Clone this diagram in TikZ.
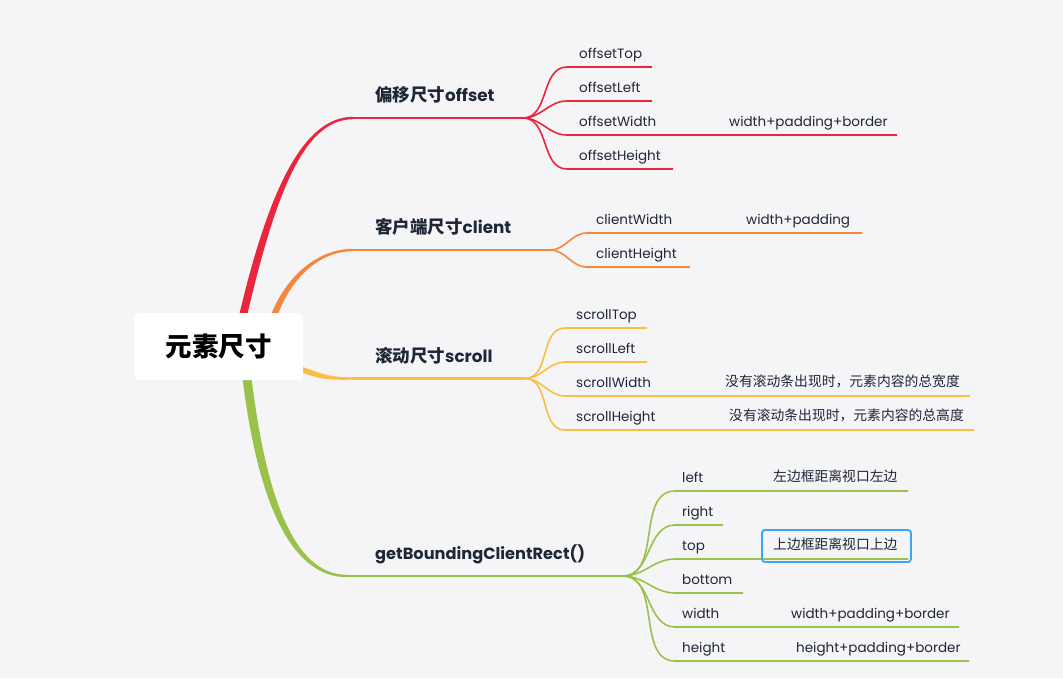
\documentclass[tikz,border=0pt]{standalone}
\usepackage{fontspec}
\setmainfont{Poppins}
\newfontfamily\zhf{Noto Sans CJK SC}
\definecolor{bg}{HTML}{F5F5F7}
\definecolor{ink}{HTML}{1E2637}
\definecolor{cred}{HTML}{EA263C}
\definecolor{corange}{HTML}{F5873C}
\definecolor{cyellow}{HTML}{FBBE45}
\definecolor{cgreen}{HTML}{9AC24B}
\definecolor{cblue}{HTML}{3AA8F0}
\begin{document}
\begin{tikzpicture}[x=1pt,y=-1pt,
  leaf/.style={anchor=base west, inner sep=0pt, text=ink, font=\fontsize{13.5}{16}\selectfont},
  note/.style={anchor=base west, inner sep=0pt, text=ink, font=\zhf\fontsize{13.8}{16}\selectfont},
  mainlbl/.style={anchor=base west, inner sep=0pt, text=ink, font=\fontsize{16.8}{20}\selectfont\bfseries},
  twig/.style={line width=1.6pt},
  limb/.style={line width=2.4pt},
  rootbox/.style={fill=white, rounded corners=5pt, inner sep=0pt, minimum width=169pt, minimum height=67pt, text=black, font=\zhf\fontsize{26.5}{30}\selectfont\bfseries},
  hilite/.style={draw=cblue, line width=1.8pt, rounded corners=3pt}
]
\fill[bg] (0,0) rectangle (1063,678);
\path[use as bounding box] (0,0) rectangle (1063,678);

% ---- tapered main branches ----
\fill[cred] (238,320) .. controls (266,200) and (300,116.8) .. (353,116.8) -- (353,119.2) .. controls (302,119.2) and (274,200) .. (246,320) -- cycle;
\fill[corange] (269,320) .. controls (283,280) and (315,248.8) .. (353,248.8) -- (353,251.2) .. controls (318,251.2) and (289,280) .. (276,320) -- cycle;
\fill[cyellow] (298,365) .. controls (325,376) and (335,377.3) .. (353,377.3) -- (353,379.7) .. controls (335,379.7) and (322,381) .. (298,371) -- cycle;
\fill[cgreen] (242,374) .. controls (257,500) and (290,577.2) .. (347,577.2) -- (347,574.8) .. controls (295,574.8) and (266,500) .. (251,374) -- cycle;

% root
\node[rootbox] (root) at (218.5,346.5) {元素尺寸};

% ---- main coordinates ----
\coordinate (r0) at (352,118);   \coordinate (rj) at (523,118);
\coordinate (o0) at (352,250);   \coordinate (oj) at (550,250);
\coordinate (y0) at (352,378.5); \coordinate (yj) at (525,378.5);
\coordinate (g0) at (346,576);   \coordinate (gj) at (623,576);

\draw[limb,cred] (r0) -- (rj);
\draw[limb,corange] (o0) -- (oj);
\draw[limb,cyellow] (y0) -- (yj);
\draw[limb,cgreen] (g0) -- (gj);

\node[mainlbl] (lr) at (375,101.5) {{\zhf\fontsize{17.5}{20}\selectfont 偏移尺寸}offset};
\node[mainlbl] (lo) at (375,233.5) {{\zhf\fontsize{17.5}{20}\selectfont 客户端尺寸}client};
\node[mainlbl] (ly) at (375,362) {{\zhf\fontsize{17.5}{20}\selectfont 滚动尺寸}scroll};
\node[mainlbl, font=\fontsize{16.2}{20}\selectfont\bfseries] (lg) at (375,559) {getBoundingClientRect()};

% ---- red children ----
\coordinate (r1s) at (567,67);  \coordinate (r1e) at (652,67);
\coordinate (r2s) at (567,101); \coordinate (r2e) at (652,101);
\coordinate (r3s) at (567,135); \coordinate (r3e) at (897,135);
\coordinate (r4s) at (567,169); \coordinate (r4e) at (673,169);
\foreach \i in {1,...,4} {\draw[twig,cred] (rj) to[out=0,in=180] (r\i s) -- (r\i e);}
\node[leaf] (t11) at (579,58) {offsetTop};
\node[leaf] (t12) at (579,92) {offsetLeft};
\node[leaf] (t13) at (579,126) {offsetWidth};
\node[leaf] (t13n) at (729,126) {width+padding+border};
\node[leaf] (t14) at (579,160) {offsetHeight};

% ---- orange children ----
\coordinate (o1s) at (587,233); \coordinate (o1e) at (862,233);
\coordinate (o2s) at (587,267); \coordinate (o2e) at (690,267);
\foreach \i in {1,2} {\draw[twig,corange] (oj) to[out=0,in=180] (o\i s) -- (o\i e);}
\node[leaf] (t21) at (596,224) {clientWidth};
\node[leaf] (t21n) at (746,224) {width+padding};
\node[leaf] (t22) at (596,258) {clientHeight};

% ---- yellow children ----
\coordinate (y1s) at (565,328); \coordinate (y1e) at (647,328);
\coordinate (y2s) at (565,362); \coordinate (y2e) at (647,362);
\coordinate (y3s) at (565,396); \coordinate (y3e) at (970,396);
\coordinate (y4s) at (565,430); \coordinate (y4e) at (974,430);
\foreach \i in {1,...,4} {\draw[twig,cyellow] (yj) to[out=0,in=180] (y\i s) -- (y\i e);}
\node[leaf] (t31) at (576,319) {scrollTop};
\node[leaf] (t32) at (576,353) {scrollLeft};
\node[leaf] (t33) at (576,387) {scrollWidth};
\node[note] (t33n) at (725,386.5) {没有滚动条出现时，元素内容的总宽度};
\node[leaf] (t34) at (576,421) {scrollHeight};
\node[note] (t34n) at (729,420.5) {没有滚动条出现时，元素内容的总高度};

% ---- green children ----
\coordinate (g1s) at (675,491); \coordinate (g1e) at (908,491);
\coordinate (g2s) at (675,525); \coordinate (g2e) at (723,525);
\coordinate (g3s) at (675,559); \coordinate (g3e) at (908,559);
\coordinate (g4s) at (675,593); \coordinate (g4e) at (743,593);
\coordinate (g5s) at (675,627); \coordinate (g5e) at (959,627);
\coordinate (g6s) at (675,661); \coordinate (g6e) at (969,661);
\foreach \i in {1,...,6} {\draw[twig,cgreen] (gj) to[out=0,in=180] (g\i s) -- (g\i e);}
\node[leaf] (t41) at (682,482) {left};
\node[note] (t41n) at (773,481.5) {左边框距离视口左边};
\node[leaf] (t42) at (682,516) {right};
\node[leaf] (t43) at (682,550) {top};
\node[note] (t43n) at (773,549.5) {上边框距离视口上边};
\draw[hilite] (762,530) rectangle (911,562);
\node[leaf] (t44) at (682,584) {bottom};
\node[leaf] (t45) at (682,618) {width};
\node[leaf] (t45n) at (791,618) {width+padding+border};
\node[leaf] (t46) at (682,652) {height};
\node[leaf] (t46n) at (796,652) {height+padding+border};
\end{tikzpicture}
\end{document}
